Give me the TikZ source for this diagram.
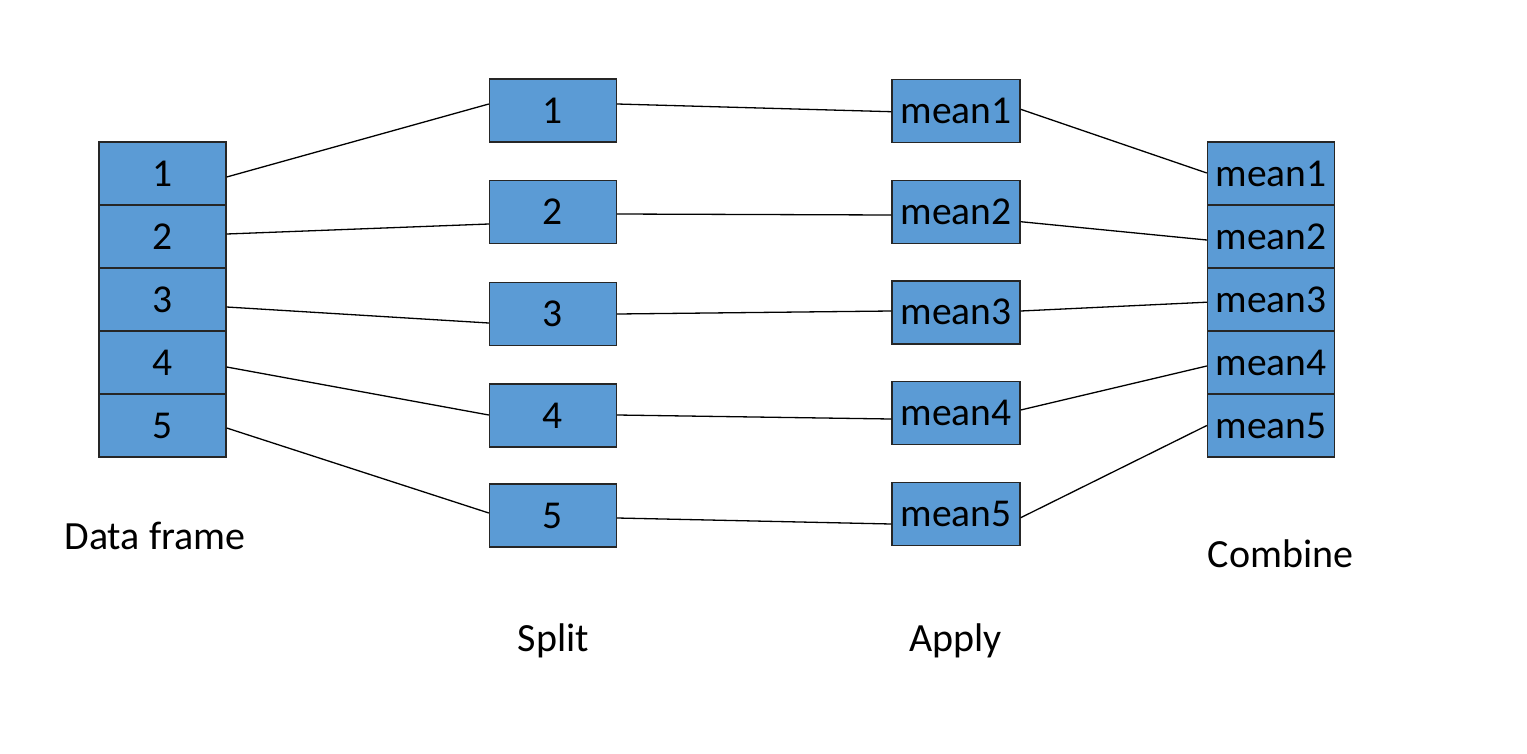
\documentclass[tikz,border=0pt]{standalone}
\usepackage{fontspec}
\setmainfont{Carlito}
\definecolor{cellblue}{HTML}{5B9BD5}
\definecolor{cellline}{HTML}{262626}
\tikzset{
  cell/.style={draw=cellline, line width=1.4pt, fill=cellblue, minimum width=127pt, minimum height=63pt, inner sep=0pt, font=\fontsize{39.5}{42}\selectfont, text=black},
  link/.style={draw=black, line width=1.3pt},
  lbl/.style={anchor=base, inner sep=0pt, font=\fontsize{40}{42}\selectfont, text=black}
}
\begin{document}
\begin{tikzpicture}[x=1pt,y=-1pt]
\fill[white] (0,0) rectangle (1527,753);
\useasboundingbox (0,0) rectangle (1527,753);
% Data frame column
\foreach \i in {1,...,5} {
  \node[cell] (d\i) at (162.5,{173.5+63*(\i-1)}) {\i};
}
% Split boxes
\node[cell] (s1) at (553,110.5) {1};
\node[cell] (s2) at (553,212) {2};
\node[cell] (s3) at (553,314) {3};
\node[cell] (s4) at (553,415.5) {4};
\node[cell] (s5) at (553,515.5) {5};
% Apply boxes
\node[cell, minimum width=128pt] (a1) at (956,110.7) {mean1};
\node[cell, minimum width=128pt] (a2) at (956,211.7) {mean2};
\node[cell, minimum width=128pt] (a3) at (956,312.3) {mean3};
\node[cell, minimum width=128pt] (a4) at (956,413) {mean4};
\node[cell, minimum width=128pt] (a5) at (956,513.7) {mean5};
% Combine column
\foreach \i in {1,...,5} {
  \node[cell] (c\i) at (1271,{173.5+63*(\i-1)}) {mean\i};
}
% Labels
\node[lbl] (ldf) at (155,549.5) {Data frame};
\node[lbl] (lsp) at (553.5,651) {Split};
\node[lbl] (lap) at (955.5,651) {Apply};
\node[lbl] (lco) at (1280.5,567) {Combine};
% Data -> Split
\draw[link] ([yshift=-3.5pt]d1.east) -- ([yshift=6.5pt]s1.west);
\draw[link] ([yshift=2.5pt]d2.east) -- ([yshift=-12pt]s2.west);
\draw[link] ([yshift=-7.5pt]d3.east) -- ([yshift=-9pt]s3.west);
\draw[link] ([yshift=-4.5pt]d4.east) -- ([yshift=0.5pt]s4.west);
\draw[link] ([yshift=-2.5pt]d5.east) -- ([yshift=2.5pt]s5.west);
% Split -> Apply
\draw[link] ([yshift=6.5pt]s1.east) -- ([yshift=-1pt]a1.west);
\draw[link] ([yshift=-2pt]s2.east) -- ([yshift=-3.3pt]a2.west);
\draw[link] (s3.east) -- ([yshift=1.3pt]a3.west);
\draw[link] ([yshift=0.5pt]s4.east) -- ([yshift=-6pt]a4.west);
\draw[link] ([yshift=-2.5pt]s5.east) -- ([yshift=-10.3pt]a5.west);
% Apply -> Combine
\draw[link] ([yshift=1.4pt]a1.east) -- ([yshift=0.5pt]c1.west);
\draw[link] ([yshift=-10pt]a2.east) -- ([yshift=-3.5pt]c2.west);
\draw[link] ([yshift=1.3pt]a3.east) -- ([yshift=-2.7pt]c3.west);
\draw[link] ([yshift=3pt]a4.east) -- ([yshift=-3.5pt]c4.west);
\draw[link] ([yshift=-4pt]a5.east) -- (c5.west);
\end{tikzpicture}
\end{document}
